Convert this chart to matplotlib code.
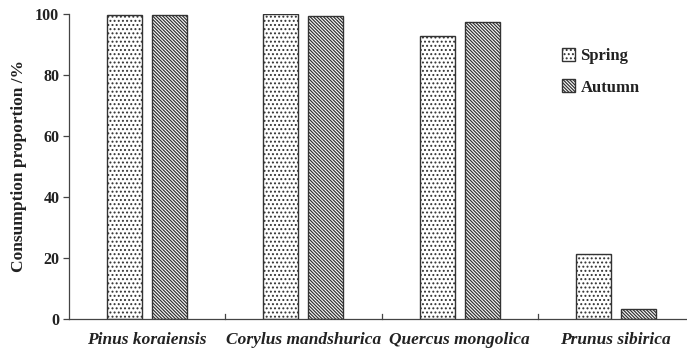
import matplotlib
matplotlib.use("Agg")
import matplotlib.pyplot as plt
import numpy as np

species = ["Pinus koraiensis", "Corylus mandshurica", "Quercus mongolica", "Prunus sibirica"]
spring = [99.8, 100.0, 92.8, 21.3]
autumn = [99.8, 99.5, 97.4, 3.3]
yticks = [0, 20, 40, 60, 80, 100]

plt.rcParams["font.family"] = ["Liberation Serif", "DejaVu Serif"]
plt.rcParams["hatch.linewidth"] = 0.9

fig = plt.figure(figsize=(6.87, 3.53), dpi=100)
ax = fig.add_axes([69 / 687, 1 - 319 / 353, 625 / 687, 305 / 353])

x = np.arange(len(species))
w = 0.225
off = 0.144
plt.rcParams["hatch.color"] = "#777777"
ax.bar(x - off, spring, w, facecolor="white", edgecolor="#333333", linewidth=1.0,
       hatch="....", label="Spring")
plt.rcParams["hatch.color"] = "#333333"
ax.bar(x + off, autumn, w, facecolor="white", edgecolor="#333333", linewidth=1.0,
       hatch="\\" * 10, label="Autumn")

ax.set_xlim(-0.5, len(species) - 0.5)
ax.set_ylim(0, 100)
ax.set_yticks(yticks)
ax.set_yticklabels([str(t) for t in yticks], fontsize=11.5, fontweight="bold", color="#222222")
ax.set_xticks(x)
ax.set_xticklabels(species, fontsize=12.5, fontweight="bold", style="italic", color="#222222")
ax.tick_params(axis="x", length=0, pad=9)
ax.tick_params(axis="y", direction="out", length=4, width=0.9, color="#444444", pad=3)

# category separators on the x axis
for b in np.arange(0.5, len(species) - 0.5, 1.0):
    ax.plot([b, b], [0, 1.6], color="#444444", linewidth=0.9, clip_on=False)

for s in ["top", "right"]:
    ax.spines[s].set_visible(False)
for s in ["left", "bottom"]:
    ax.spines[s].set_color("#444444")
    ax.spines[s].set_linewidth(0.9)

ax.set_ylabel("Consumption proportion /%", fontsize=12.5, fontweight="bold", color="#222222", labelpad=6)

leg = ax.legend(loc="upper left", bbox_to_anchor=(0.765, 0.937), frameon=False,
                prop={"weight": "bold", "size": 12}, handlelength=0.8, handleheight=0.8,
                handletextpad=0.3, labelspacing=0.9)
for t in leg.get_texts():
    t.set_color("#222222")

fig.savefig("out.png", dpi=100)
